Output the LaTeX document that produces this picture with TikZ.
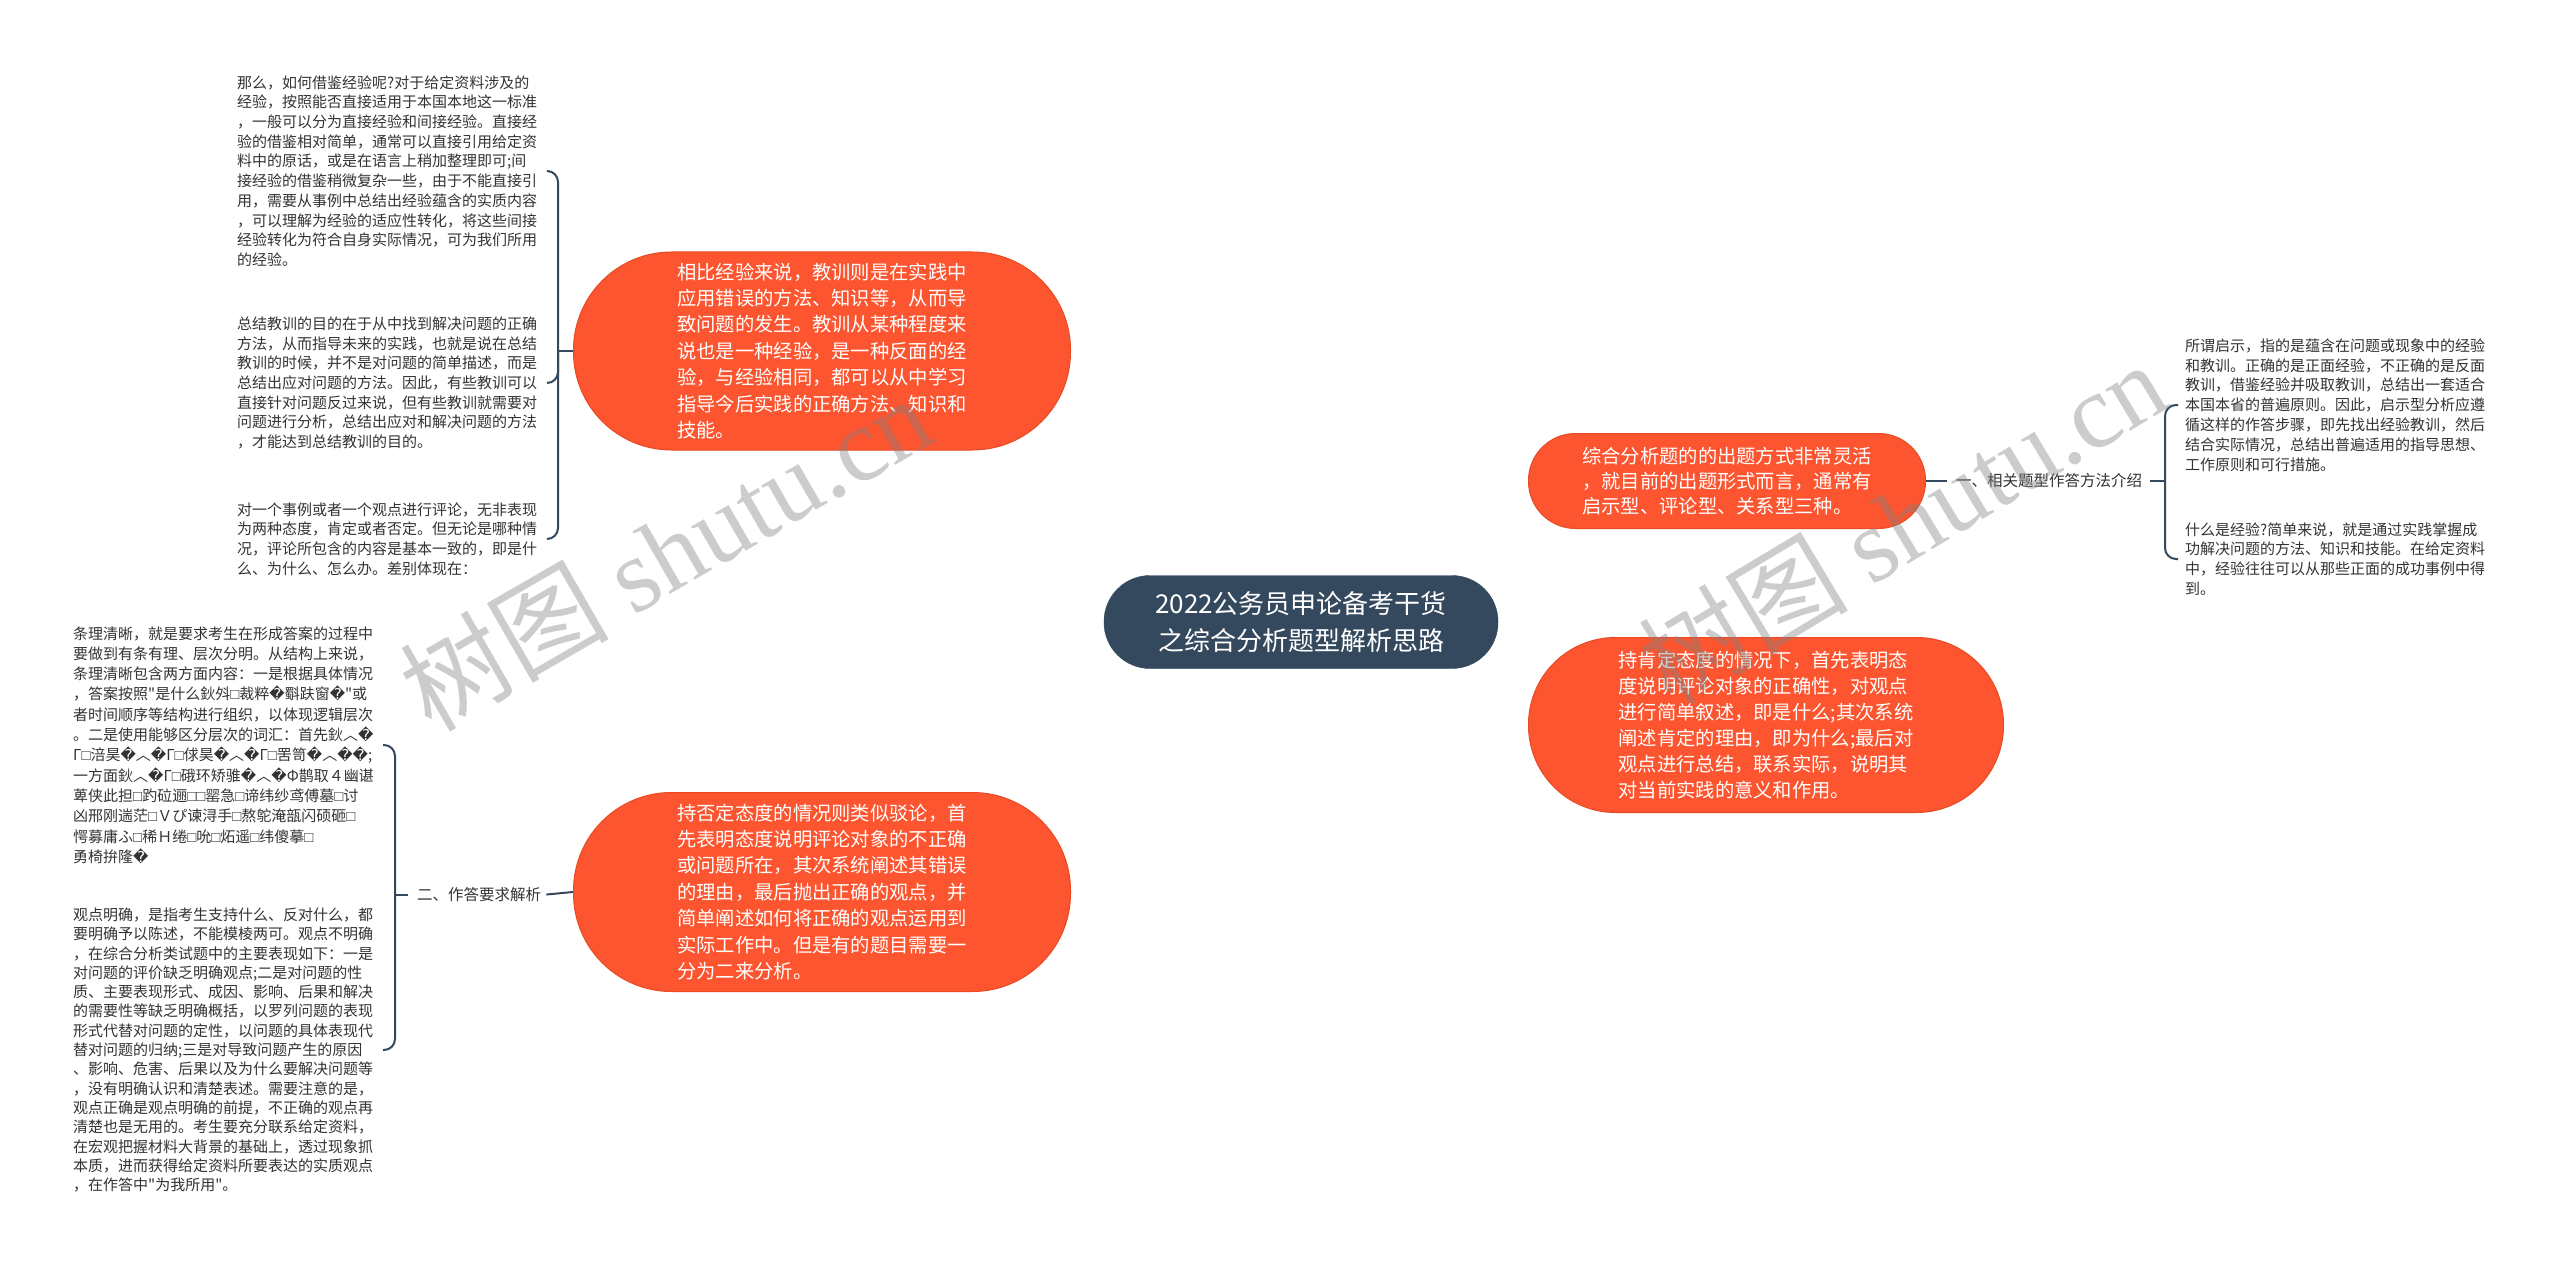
\documentclass[tikz,border=0pt]{standalone}
\usepackage{fontspec}
\newfontfamily\cjk{Noto Sans CJK SC}
\newfontfamily\dv{DejaVu Sans}
\newfontfamily\lib{Liberation Sans}
\newfontfamily\libser{Liberation Serif}
\usetikzlibrary{backgrounds,calc}
\definecolor{orng}{HTML}{FC5530}
\definecolor{orngd}{HTML}{E84A22}
\definecolor{slate}{HTML}{34495E}
\definecolor{txt}{HTML}{333333}
\newcommand\rp{{\dv �}}
\newcommand\bx{{\lib □}}
\tikzset{
  orangebox/.style={rectangle, fill=orng, draw=orngd, line width=1pt, text=white, inner sep=0pt, align=left, font=\cjk\fontsize{19.3}{26.4}\selectfont},
  centralbox/.style={rectangle, fill=slate, draw=slate, text=white, inner sep=0pt, align=center, minimum width=394pt, minimum height=93pt, rounded corners=46pt, font=\cjk\fontsize{26}{37}\selectfont},
  smalltext/.style={anchor=west, inner sep=0pt, align=left, text=txt, font=\cjk\fontsize{15}{19.7}\selectfont},
  labeltext/.style={anchor=west, inner sep=0pt, text=txt, font=\cjk\fontsize{15.5}{19}\selectfont},
  conn/.style={draw=slate, line width=2.2pt},
  brk/.style={draw=slate, line width=2pt, rounded corners=11pt},
  wm/.style={text=gray, text opacity=0.4, inner sep=0pt, font=\cjk\fontsize{105}{105}\selectfont}
}
\begin{document}
\begin{tikzpicture}[x=1pt,y=-1pt]
\useasboundingbox[fill=white] (0,0) rectangle (2560,1265);

% central
\node[centralbox] (c) at (1301,622) {2022公务员申论备考干货\\之综合分析题型解析思路};

% orange nodes
\node[orangebox, minimum width=497pt, minimum height=198pt, rounded corners=98pt] (tl) at (822,351) {相比经验来说，教训则是在实践中\\应用错误的方法、知识等，从而导\\致问题的发生。教训从某种程度来\\说也是一种经验，是一种反面的经\\验，与经验相同，都可以从中学习\\指导今后实践的正确方法、知识和\\技能。};
\node[orangebox, minimum width=497pt, minimum height=199pt, rounded corners=98pt] (bl) at (822,892) {持否定态度的情况则类似驳论，首\\先表明态度说明评论对象的不正确\\或问题所在，其次系统阐述其错误\\的理由，最后抛出正确的观点，并\\简单阐述如何将正确的观点运用到\\实际工作中。但是有的题目需要一\\分为二来分析。};
\node[orangebox, minimum width=397pt, minimum height=95pt, rounded corners=47pt, font=\cjk\fontsize{19.3}{25}\selectfont] (tr) at (1727,481) {综合分析题的的出题方式非常灵活\\，就目前的出题形式而言，通常有\\启示型、评论型、关系型三种。};
\node[orangebox, minimum width=475pt, minimum height=175pt, rounded corners=87pt, font=\cjk\fontsize{19.3}{26}\selectfont] (br) at (1766,725) {持肯定态度的情况下，首先表明态\\度说明评论对象的正确性，对观点\\进行简单叙述，即是什么;其次系统\\阐述肯定的理由，即为什么;最后对\\观点进行总结，联系实际，说明其\\对当前实践的意义和作用。};

% left-top texts
\node[smalltext] (lt1) at (237,171) {那么，如何借鉴经验呢?对于给定资料涉及的\\经验，按照能否直接适用于本国本地这一标准\\，一般可以分为直接经验和间接经验。直接经\\验的借鉴相对简单，通常可以直接引用给定资\\料中的原话，或是在语言上稍加整理即可;间\\接经验的借鉴稍微复杂一些，由于不能直接引\\用，需要从事例中总结出经验蕴含的实质内容\\，可以理解为经验的适应性转化，将这些间接\\经验转化为符合自身实际情况，可为我们所用\\的经验。};
\node[smalltext] (lt2) at (237,383) {总结教训的目的在于从中找到解决问题的正确\\方法，从而指导未来的实践，也就是说在总结\\教训的时候，并不是对问题的简单描述，而是\\总结出应对问题的方法。因此，有些教训可以\\直接针对问题反过来说，但有些教训就需要对\\问题进行分析，总结出应对和解决问题的方法\\，才能达到总结教训的目的。};
\node[smalltext] (lt3) at (237,539) {对一个事例或者一个观点进行评论，无非表现\\为两种态度，肯定或者否定。但无论是哪种情\\况，评论所包含的内容是基本一致的，即是什\\么、为什么、怎么办。差别体现在：};

% left-bottom texts
\node[smalltext, font=\cjk\fontsize{15}{20.3}\selectfont] (lb1) at (73,745) {条理清晰，就是要求考生在形成答案的过程中\\要做到有条有理、层次分明。从结构上来说，\\条理清晰包含两方面内容：一是根据具体情况\\，答案按照"是什么鈥斘\bx 裁粹\rp 斣趺窗\rp "或\\者时间顺序等结构进行组织，以体现逻辑层次\\。二是使用能够区分层次的词汇：首先鈥︿\rp\\Г\bx 涪昊\rp ︿\rp Г\bx 俅昊\rp ︿\rp Г\bx 罟笥\rp ︿\rp\rp ;\\一方面鈥︿\rp Г\bx 硪环矫骓\rp ︿\rp Φ鹊取４幽谌\\萆侠此担\bx 趵砬逦\bx\bx 罂急\bx 谛纬纱鸢傅墓\bx 讨\\凶邢刚遄茫\bx Ｖぴ谏浔手\bx 熬鸵淹瓿闪硕砸\bx\\愕募庸ふ\bx 稀Ｈ绻\bx 吮\bx 炻遥\bx 纬傻摹\bx\\勇椅拚隆\rp};
\node[smalltext, font=\cjk\fontsize{15}{19.3}\selectfont] (lb2) at (73,1050) {观点明确，是指考生支持什么、反对什么，都\\要明确予以陈述，不能模棱两可。观点不明确\\，在综合分析类试题中的主要表现如下：一是\\对问题的评价缺乏明确观点;二是对问题的性\\质、主要表现形式、成因、影响、后果和解决\\的需要性等缺乏明确概括，以罗列问题的表现\\形式代替对问题的定性，以问题的具体表现代\\替对问题的归纳;三是对导致问题产生的原因\\、影响、危害、后果以及为什么要解决问题等\\，没有明确认识和清楚表述。需要注意的是，\\观点正确是观点明确的前提，不正确的观点再\\清楚也是无用的。考生要充分联系给定资料，\\在宏观把握材料大背景的基础上，透过现象抓\\本质，进而获得给定资料所要表达的实质观点\\，在作答中"为我所用"。};

% right texts
\node[smalltext, font=\cjk\fontsize{15}{19.8}\selectfont] (r1) at (2185,405) {所谓启示，指的是蕴含在问题或现象中的经验\\和教训。正确的是正面经验，不正确的是反面\\教训，借鉴经验并吸取教训，总结出一套适合\\本国本省的普遍原则。因此，启示型分析应遵\\循这样的作答步骤，即先找出经验教训，然后\\结合实际情况，总结出普遍适用的指导思想、\\工作原则和可行措施。};
\node[smalltext, font=\cjk\fontsize{15}{19.8}\selectfont] (r2) at (2185,559) {什么是经验?简单来说，就是通过实践掌握成\\功解决问题的方法、知识和技能。在给定资料\\中，经验往往可以从那些正面的成功事例中得\\到。};

% labels
\node[labeltext] (rl) at (1956,481) {一、相关题型作答方法介绍};
\node[labeltext] (ll) at (417,895) {二、作答要求解析};

% bracket coordinates
\coordinate (ltj) at (558,351);
\coordinate (lth1) at (547,171);
\coordinate (lth2) at (547,383);
\coordinate (lth3) at (547,539);
\coordinate (lbj) at (395,895);
\coordinate (lbh1) at (383,745);
\coordinate (lbh2) at (383,1050);
\coordinate (rj) at (2165,481);
\coordinate (rh1) at (2178,405);
\coordinate (rh2) at (2178,559);

\begin{pgfonlayer}{background}
\draw[conn] (c.center) .. controls (1295,400) and (1180,351) .. (tl.east);
\draw[conn] (c.center) .. controls (1295,850) and (1180,892) .. (bl.east);
\draw[conn] (c.center) .. controls (1312,481) and (1400,481) .. (tr.west);
\draw[conn] (c.center) .. controls (1315,725) and (1400,725) .. (br.west);
\end{pgfonlayer}

% brackets
\draw[brk] (lth1) -| (ltj) |- (lth3);
\draw[brk] (ltj) |- (lth2);
\draw[conn, line width=2pt] (ltj) -- (tl.west);

\draw[brk] (lbh1) -| (lbj) |- (lbh2);
\draw[conn, line width=2pt, shorten >=9pt] (lbj) -- (ll.west);
\draw[conn, line width=2pt, shorten <=5pt] (ll.east) -- (bl.west);

\draw[brk] (rh1) -| (rj) |- (rh2);
\draw[conn, line width=2pt, shorten >=9pt] (tr.east) -- (rl.west);
\draw[conn, line width=2pt, shorten <=8pt] (rl.east) -- (rj);

% watermarks
\node[wm, rotate=30] (w1) at (665,552) {树图 {\libser shutu.cn}};
\node[wm, rotate=31] (w2) at (1902,522) {树图 {\libser shutu.cn}};
\end{tikzpicture}
\end{document}
